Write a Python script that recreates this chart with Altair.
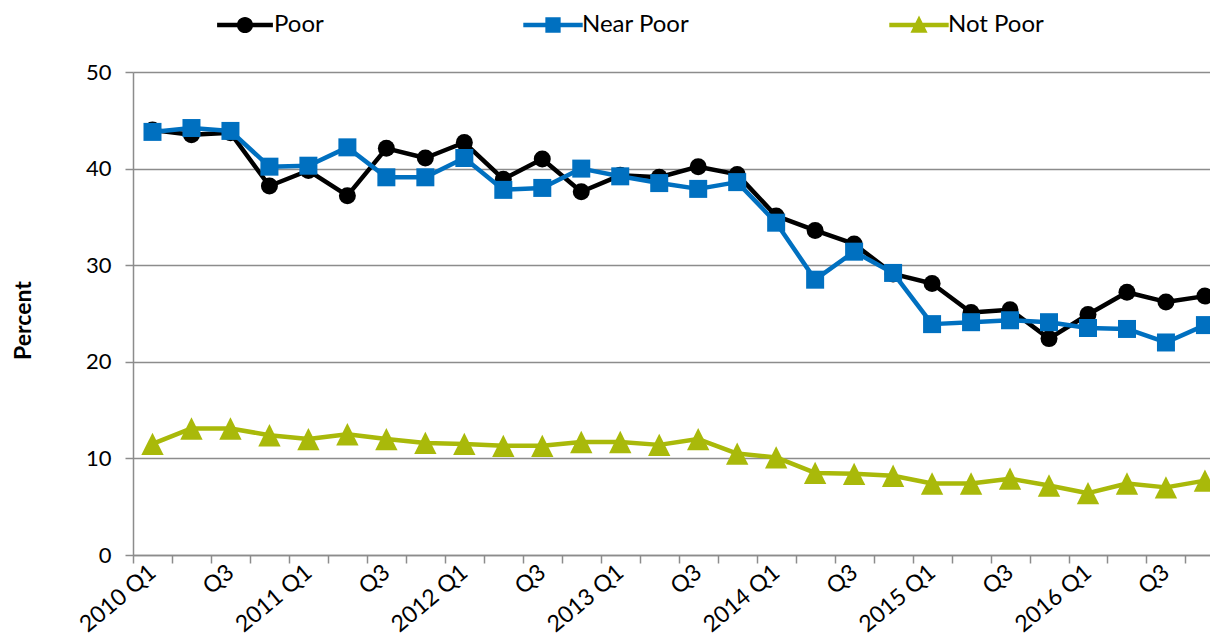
import json
import altair as alt
import pandas as pd

# ---------------- data ----------------
quarters = [f"{y} Q{q}" for y in range(2010, 2017) for q in range(1, 5)]
tick_labels = ["2010 Q1", "Q3", "2011 Q1", "Q3", "2012 Q1", "Q3", "2013 Q1", "Q3",
               "2014 Q1", "Q3", "2015 Q1", "Q3", "2016 Q1", "Q3"]
series_names = ["Poor", "Near Poor", "Not Poor"]

poor = [44.0, 43.5, 43.7, 38.2, 39.8, 37.2, 42.1, 41.1, 42.7, 38.9, 41.0, 37.6,
        39.3, 39.1, 40.2, 39.4, 35.1, 33.6, 32.2, 29.1, 28.1, 25.1, 25.4, 22.4,
        24.9, 27.2, 26.2, 26.8]
near_poor = [43.8, 44.2, 43.9, 40.2, 40.3, 42.2, 39.1, 39.1, 41.1, 37.8, 38.0, 40.0,
             39.2, 38.5, 37.9, 38.6, 34.4, 28.5, 31.4, 29.2, 23.9, 24.1, 24.3, 24.1,
             23.5, 23.4, 22.0, 23.8]
not_poor = [11.5, 13.1, 13.1, 12.4, 12.0, 12.5, 12.0, 11.6, 11.5, 11.3, 11.3, 11.7,
            11.7, 11.4, 12.0, 10.5, 10.1, 8.5, 8.4, 8.2, 7.4, 7.4, 7.9, 7.2,
            6.4, 7.4, 7.0, 7.7]

colors = ["#000000", "#0070C0", "#A9B90A"]
marker_shapes = ["circle", "square", "M0,-1L1,1L-1,1Z"]
marker_sizes = [289, 324, 500]
legend_paths = [
    "M-3.1,-0.25L3.1,-0.25L3.1,0.25L-3.1,0.25Z M0.9,0A0.9,0.9 0 1,1 -0.9,0A0.9,0.9 0 1,1 0.9,0Z",
    "M-3.3,-0.25L3.3,-0.25L3.3,0.25L-3.3,0.25Z M-0.85,-0.85L0.85,-0.85L0.85,0.85L-0.85,0.85Z",
    "M-3.3,-0.25L3.3,-0.25L3.3,0.25L-3.3,0.25Z M0,-1.05L0.95,0.85L-0.95,0.85Z",
]

rows = []
for name, vals in zip(series_names, [poor, near_poor, not_poor]):
    for i, (q, v) in enumerate(zip(quarters, vals)):
        rows.append({"idx": i, "quarter": q, "series": name, "value": v})
df = pd.DataFrame(rows)

FONT = "Lato"
GRAY = "#8C8C8C"

label_expr = ("datum.value % 2 === 0 ? " + json.dumps(tick_labels) +
              "[datum.value / 2] : ''")

x_axis = alt.Axis(
    values=[i * 0.5 - 0.5 for i in range(55)],
    grid=False,
    domainColor=GRAY, domainWidth=1.5,
    tickColor=GRAY, tickWidth=1.5, tickSize=8,
    tickOpacity={"condition": {"test": "datum.value % 1 !== 0", "value": 1}, "value": 0},
    labelExpr=label_expr,
    labelAngle=-40, labelAlign="right", labelBaseline="middle",
    labelPadding=6, labelFont=FONT, labelFontSize=23, labelColor="#000000",
    labelOverlap=False, labelBound=False, labelFlush=False,
    title=None,
)
y_axis = alt.Axis(
    values=[0, 10, 20, 30, 40, 50],
    grid=True, gridColor=GRAY, gridWidth=1.5,
    domainColor=GRAY, domainWidth=1.5,
    tickColor=GRAY, tickWidth=1.5, tickSize=8,
    labelFont=FONT, labelFontSize=22, labelColor="#000000", labelPadding=14,
    title="Percent", titleFont=FONT, titleFontSize=23, titleFontWeight="bold",
    titleColor="#000000", titleAngle=-90, titleBaseline="middle", titleAlign="center",
    titleX=-110, titleY=248,
)

x_enc = alt.X("idx:Q", scale=alt.Scale(domain=[-0.5, 27.13], nice=False, zero=False), axis=x_axis)
y_enc = alt.Y("value:Q", scale=alt.Scale(domain=[0, 50], nice=False, zero=True), axis=y_axis)
color_scale = alt.Scale(domain=series_names, range=colors)

layers = []
for name, shp, sz in zip(series_names, marker_shapes, marker_sizes):
    sub = alt.Chart(df).transform_filter(alt.datum.series == name)
    line = sub.mark_line(strokeWidth=4.5, strokeJoin="round", strokeCap="round").encode(
        x=x_enc, y=y_enc,
        color=alt.Color("series:N", scale=color_scale, legend=None),
    )
    pts = sub.mark_point(filled=True, opacity=1, size=sz, shape=shp).encode(
        x=x_enc, y=y_enc,
        color=alt.Color("series:N", scale=color_scale, legend=None),
    )
    layers += [line, pts]

legend_def = alt.Legend(
    orient="none", legendX=100, legendY=-59, direction="horizontal",
    title=None, symbolSize=324, labelOffset=17, columnPadding=199,
    labelFont=FONT, labelFontSize=24, labelColor="#000000",
    symbolOpacity=1, padding=0, symbolStrokeWidth=0,
)

# invisible layer (first point of each series) that only carries the legend
legend_layer = alt.Chart(df).transform_filter("datum.idx == 0").mark_point(
    filled=True, opacity=0, size=1
).encode(
    x=x_enc, y=y_enc,
    color=alt.Color("series:N", scale=color_scale, legend=legend_def),
    shape=alt.Shape("series:N", scale=alt.Scale(domain=series_names, range=legend_paths),
                    legend=legend_def),
)
layers.insert(0, legend_layer)

chart = alt.layer(*layers).properties(
    width=1077, height=483,
    padding={"left": 125, "top": 64, "right": 0, "bottom": 82},
    autosize=alt.AutoSizeParams(type="none"),
    background="white",
).configure_view(stroke=None)

chart.save("out.html", embed_options={"renderer": "svg", "actions": False})
